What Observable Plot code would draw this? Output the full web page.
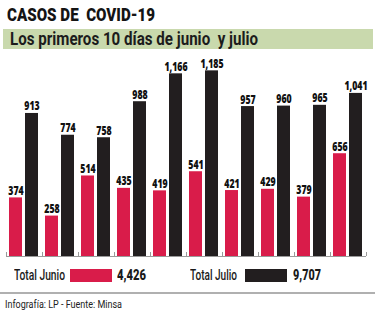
<!DOCTYPE html>
<html>
<head>
<meta charset="utf-8">
<script src="https://cdn.jsdelivr.net/npm/d3@7"></script>
<script src="https://cdn.jsdelivr.net/npm/@observablehq/plot@0.6"></script>
<style>
  body { margin: 0; background: #fff; width: 375px; height: 325px; position: relative; overflow: hidden;
         font-family: Roboto, "DejaVu Sans", sans-serif; }
  .t { position: absolute; white-space: pre; line-height: 1; transform-origin: 0 50%; }
  #title { left: 7px; top: 5px; font-size: 19px; font-weight: 900; color: #141414; }
  #band { position: absolute; left: 3px; top: 29px; width: 370px; height: 20px; background: #c9d9ad; }
  #subtitle { left: 10px; top: 30px; font-size: 18px; font-weight: 700; color: #1c1c1c; }
  #chart { position: absolute; left: 0; top: 50px; }
  .sw { position: absolute; top: 269px; height: 13px; width: 42px; }
  .lg { top: 268px; font-size: 14px; font-weight: 500; color: #1a1a1a; }
  .tot { top: 268px; font-size: 14px; font-weight: 900; color: #1a1a1a; }
  #rule { position: absolute; left: 0; top: 292px; width: 375px; height: 2px; background: #b0b0b0; }
  #caption { left: 5px; top: 300px; font-size: 10px; color: #222; }
</style>
</head>
<body>
<div id="title" class="t">CASOS DE  COVID-19</div>
<div id="band"></div>
<div id="subtitle" class="t">Los primeros 10 días de junio  y julio</div>
<div id="chart"></div>
<div id="lgJunio" class="t lg" style="left:14px">Total Junio</div>
<div id="swJunio" class="sw" style="left:70px"></div>
<div id="totJunio" class="t tot" style="left:117px"></div>
<div id="lgJulio" class="t lg" style="left:190px">Total Julio</div>
<div id="swJulio" class="sw" style="left:245px"></div>
<div id="totJulio" class="t tot" style="left:293px"></div>
<div id="rule"></div>
<div id="caption" class="t">Infografía: LP - Fuente: Minsa</div>
<script>
// Daily COVID-19 cases, first ten days of June and July
const days = [1, 2, 3, 4, 5, 6, 7, 8, 9, 10];
const junio = [374, 258, 514, 435, 419, 541, 421, 429, 379, 656];
const julio = [913, 774, 758, 988, 1166, 1185, 957, 960, 965, 1041];

const RED = "#d91c4a";
const BLACK = "#221e1f";
const fmt = d3.format(",");

const rows = days.map((d, i) => ({day: d, junio: junio[i], julio: julio[i]}));

const H = 210, MT = 18, MB = 4;
const innerH = H - MT - MB;

const chart = Plot.plot({
  width: 375,
  height: H,
  marginLeft: 6,
  marginRight: 9,
  marginTop: MT,
  marginBottom: MB,
  x: {type: "band", domain: days, padding: 0, axis: null},
  y: {domain: [0, 1200], axis: null},
  marks: [
    Plot.barY(rows, {x: "day", y: "junio", fill: RED, insetLeft: 3, insetRight: 20}),
    Plot.barY(rows, {x: "day", y: "julio", fill: BLACK, insetLeft: 19, insetRight: 4}),
    Plot.ruleY([0], {stroke: "#9a9a9a", strokeWidth: 1}),
    // small separators between the days
    Plot.ruleX(rows, {x: "day", dx: -18, stroke: "#9a9a9a", insetTop: innerH - 4}),
    Plot.ruleX(rows.slice(-1), {x: "day", dx: 18, stroke: "#9a9a9a", insetTop: innerH - 4}),
    Plot.text(rows, {x: "day", y: "junio", text: d => fmt(d.junio), dx: -8.5, dy: -3,
      lineAnchor: "bottom", fontSize: 12.5, fontWeight: 900, fill: "#111", className: "vlabel"}),
    Plot.text(rows, {x: "day", y: "julio", text: d => fmt(d.julio), dx: 7.5, dy: -3,
      lineAnchor: "bottom", fontSize: 12.5, fontWeight: 900, fill: "#111", className: "vlabel"})
  ]
});
document.getElementById("chart").appendChild(chart);

// legend
document.getElementById("swJunio").style.background = RED;
document.getElementById("swJulio").style.background = BLACK;
document.getElementById("totJunio").textContent = fmt(d3.sum(junio));
document.getElementById("totJulio").textContent = fmt(d3.sum(julio));

// condensed look: squeeze text horizontally to the set widths
function fit(id, w) {
  const el = document.getElementById(id);
  const r = el.getBoundingClientRect().width;
  el.style.transform = `scaleX(${w / r})`;
}
fit("title", 148);
fit("subtitle", 248);
fit("lgJunio", 51);
fit("totJunio", 29);
fit("lgJulio", 47);
fit("totJulio", 28);
fit("caption", 117);

// narrow the bar value labels around their anchor point
chart.querySelectorAll(".vlabel text").forEach(t => {
  let tr = t.getAttribute("transform") || "";
  const x = t.getAttribute("x"), y = t.getAttribute("y");
  if (x !== null || y !== null) {
    tr += ` translate(${x || 0},${y || 0})`;
    t.removeAttribute("x");
    t.removeAttribute("y");
  }
  t.setAttribute("transform", `${tr} scale(0.7,1)`);
});
</script>
</body>
</html>
